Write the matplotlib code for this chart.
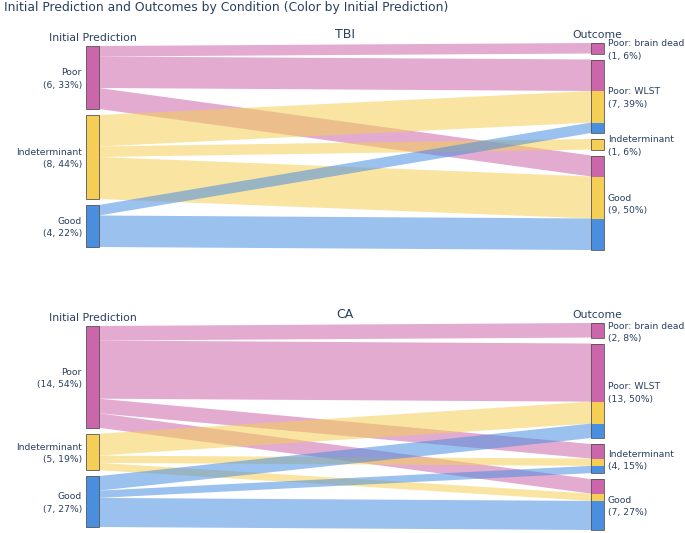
import matplotlib
matplotlib.use("Agg")
import matplotlib.pyplot as plt
from matplotlib.patches import Polygon, Rectangle

# ---- data ----
sources = ["Poor", "Indeterminant", "Good"]
targets = ["Poor: brain dead", "Poor: WLST", "Indeterminant", "Good"]

# flows[source][target], one table per condition
tbi_flows = [
    [1, 3, 0, 2],   # Poor
    [0, 3, 1, 4],   # Indeterminant
    [0, 1, 0, 3],   # Good
]
ca_flows = [
    [2, 8, 2, 2],
    [0, 3, 1, 1],
    [0, 2, 1, 4],
]
conditions = ["TBI", "CA"]

node_colors = ["#cc66aa", "#f5cf55", "#4a8ee0"]
text_color = "#2a3f5f"
link_alpha = 0.55

W, H = 685, 533
fig = plt.figure(figsize=(W / 100, H / 100), dpi=100)
ax = fig.add_axes([0, 0, 1, 1])
ax.set_xlim(0, W)
ax.set_ylim(H, 0)
ax.axis("off")

x_left, x_right, node_w, pad = 86, 591, 13, 6
domains = [(43, 250), (323, 530)]
font = ["DejaVu Sans"]


def column_layout(totals, top, bottom, scale):
    h = sum(totals) * scale + pad * (len(totals) - 1)
    y = top + (bottom - top - h) / 2
    pos = []
    for t in totals:
        pos.append((y, y + t * scale))
        y += t * scale + pad
    return pos


def draw_sankey(flows, name, top, bottom):
    src_tot = [sum(r) for r in flows]
    tgt_tot = [sum(flows[i][j] for i in range(len(flows))) for j in range(len(targets))]
    n = sum(src_tot)
    scale = min((bottom - top - pad * (len(src_tot) - 1)) / n,
                (bottom - top - pad * (len(tgt_tot) - 1)) / n)
    spos = column_layout(src_tot, top, bottom, scale)
    tpos = column_layout(tgt_tot, top, bottom, scale)

    # links: ordered by target at the source, by source at the target
    for i in range(len(sources)):
        for j in range(len(targets)):
            v = flows[i][j]
            if v == 0:
                continue
            sy0 = spos[i][0] + sum(flows[i][:j]) * scale
            ty0 = tpos[j][0] + sum(flows[k][j] for k in range(i)) * scale
            h = v * scale
            poly = Polygon([(x_left + node_w, sy0), (x_right, ty0),
                            (x_right, ty0 + h), (x_left + node_w, sy0 + h)],
                           closed=True, facecolor=node_colors[i], alpha=link_alpha,
                           edgecolor="none", zorder=1)
            ax.add_patch(poly)

    # source nodes
    for i, (y0, y1) in enumerate(spos):
        ax.add_patch(Rectangle((x_left, y0), node_w, y1 - y0, facecolor=node_colors[i],
                               edgecolor="#555555", lw=0.6, zorder=3))
        ax.text(x_left - 4, (y0 + y1) / 2 + 1.5,
                f"{sources[i]}\n({src_tot[i]}, {round(100 * src_tot[i] / n)}%)",
                ha="right", va="center", fontsize=6.7, color=text_color,
                family=font, linespacing=1.5, multialignment="right")
    # target nodes, stacked by source colour
    for j, (y0, y1) in enumerate(tpos):
        y = y0
        for i in range(len(sources)):
            h = flows[i][j] * scale
            if h:
                ax.add_patch(Rectangle((x_right, y), node_w, h, facecolor=node_colors[i],
                                       edgecolor="none", zorder=3))
            y += h
        ax.add_patch(Rectangle((x_right, y0), node_w, y1 - y0, facecolor="none",
                               edgecolor="#555555", lw=0.6, zorder=4))
        ax.text(x_right + node_w + 4, (y0 + y1) / 2 + 2,
                f"{targets[j]}\n({tgt_tot[j]}, {round(100 * tgt_tot[j] / n)}%)",
                ha="left", va="center", fontsize=6.7, color=text_color,
                family=font, linespacing=1.5)

    ax.text(x_left + node_w / 2, top - 5, "Initial Prediction", ha="center", va="center",
            fontsize=7.8, color=text_color, family=font)
    ax.text(x_right + node_w / 2, top - 8, "Outcome", ha="center", va="center",
            fontsize=7.8, color=text_color, family=font)
    ax.text((x_left + x_right + node_w) / 2, top - 8, name, ha="center", va="center",
            fontsize=9, color=text_color, family=font)


for flows, name, (top, bottom) in zip([tbi_flows, ca_flows], conditions, domains):
    draw_sankey(flows, name, top, bottom)

ax.text(4, 8, "Initial Prediction and Outcomes by Condition (Color by Initial Prediction)",
        ha="left", va="center", fontsize=8.9, color=text_color, family=font)

fig.savefig("out.png", dpi=100)
